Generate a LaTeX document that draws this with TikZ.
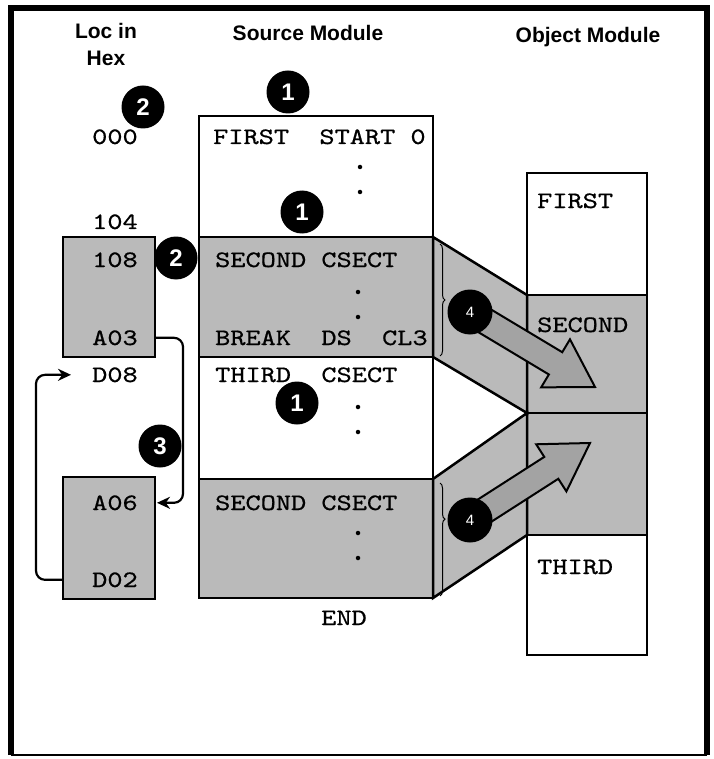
\documentclass[tikz,border=0pt]{standalone}
\usepackage{fontspec}
\setmainfont{Liberation Sans}
\newfontfamily\monofnt{lmmono10-regular.otf}[FakeStretch=1.23, FakeBold=0.7]
\usetikzlibrary{calc,decorations.pathreplacing,arrows.meta}
\colorlet{shadegray}{black!27}
\colorlet{arrowgray}{black!36}
\begin{document}
\begin{tikzpicture}[x=1pt,y=-1pt,
  box/.style={draw, line width=2.5pt, outer sep=0pt, inner sep=0pt, anchor=north west, fill=white},
  shadebox/.style={box, fill=shadegray},
  code/.style={anchor=base west, inner sep=0pt, font=\monofnt\fontsize{23.5}{24}\selectfont},
  head/.style={anchor=base, inner sep=0pt, font=\bfseries\fontsize{21}{24}\selectfont},
  num/.style={circle, fill=black, minimum size=43pt, inner sep=0pt, text=white, font=\bfseries\fontsize{24}{24}\selectfont},
  numsmall/.style={circle, fill=black, minimum size=45pt, inner sep=0pt, text=white, font=\fontsize{15}{15}\selectfont},
  dotmark/.style={circle, fill=black, minimum size=4.5pt, inner sep=0pt},
  loopline/.style={line width=2.2pt, rounded corners=9pt, -{Stealth[length=13pt,width=12pt]}},
  bigarrow/.style={draw, line width=2pt, fill=arrowgray, line join=miter},
  band/.style={draw, line width=2.5pt, fill=shadegray, line join=miter},
  bracestyle/.style={decorate, decoration={brace, amplitude=5pt}, line width=1pt}
]
\useasboundingbox (0,0) rectangle (713,759);
% frame
\draw[line width=6pt] (11,755) -- (11,8) -- (707,8) -- (707,755);
\draw[line width=2pt] (11,755) -- (707,755);

% headings
\node[head] (hLoc) at (106,39) {Loc in};
\node[head] (hHex) at (106,66) {Hex};
\node[head] (hSrc) at (308,41) {Source Module};
\node[head] (hObj) at (588,43) {Object Module};

% source module
\node[box, minimum width=234pt, minimum height=121pt] (srcA) at (199,116) {};
\node[shadebox, minimum width=234pt, minimum height=120pt] (srcB) at (199,237) {};
\node[box, minimum width=234pt, minimum height=122pt] (srcC) at (199,357) {};
\node[shadebox, minimum width=234pt, minimum height=119pt] (srcD) at (199,479) {};

% object module
\node[box, minimum width=120pt, minimum height=122pt] (objA) at (527,173) {};
\node[shadebox, minimum width=120pt, minimum height=118pt] (objB) at (527,295) {};
\node[shadebox, minimum width=120pt, minimum height=122pt] (objC) at (527,413) {};
\node[box, minimum width=120pt, minimum height=120pt] (objD) at (527,535) {};

% location boxes
\node[shadebox, minimum width=92pt, minimum height=120pt] (locA) at (63,237) {};
\node[shadebox, minimum width=92pt, minimum height=122pt] (locB) at (63,477) {};

% bands
\draw[band] (srcB.north east) -- (objB.north west) -- (objB.south west) -- (srcB.south east) -- cycle;
\draw[band] (srcD.north east) -- (objC.north west) -- (objC.south west) -- (srcD.south east) -- cycle;

% braces
\coordinate (bA1) at (440,244);
\coordinate (bA2) at (440,356);
\coordinate (bB1) at (440,483);
\coordinate (bB2) at (440,596);
\draw[bracestyle] (bA1) -- (bA2);
\draw[bracestyle, decoration={brace, amplitude=5pt, aspect=0.32}] (bB1) -- (bB2);

% big arrows
\coordinate (S1) at (470,312);
\coordinate (T1) at (595,387);
\coordinate (B1) at ($(T1)!46pt!(S1)$);
\draw[bigarrow] ($(S1)!13pt!90:(T1)$) -- ($(B1)!13pt!-90:(S1)$) -- ($(B1)!28pt!-90:(S1)$) -- (T1)
  -- ($(B1)!28pt!90:(S1)$) -- ($(B1)!13pt!90:(S1)$) -- ($(S1)!13pt!-90:(T1)$) -- cycle;
\coordinate (S2) at (470,520);
\coordinate (T2) at (590,443);
\coordinate (B2) at ($(T2)!46pt!(S2)$);
\draw[bigarrow] ($(S2)!13pt!90:(T2)$) -- ($(B2)!13pt!-90:(S2)$) -- ($(B2)!28pt!-90:(S2)$) -- (T2)
  -- ($(B2)!28pt!90:(S2)$) -- ($(B2)!13pt!90:(S2)$) -- ($(S2)!13pt!-90:(T2)$) -- cycle;

% numbered circles
\node[num] (n2a) at (143,107) {2};
\node[num] (n1a) at (288,92) {1};
\node[num] (n1b) at (302,212) {1};
\node[num] (n2b) at (176,258) {2};
\node[num] (n1c) at (297,403) {1};
\node[num] (n3) at (160,446) {3};
\node[numsmall] (n4a) at (S1) {4};
\node[numsmall] (n4b) at (S2) {4};

% dots
\node[dotmark] (d1) at (360,167) {};
\node[dotmark] (d2) at (360,192) {};
\node[dotmark] (d3) at (358,292) {};
\node[dotmark] (d4) at (358,317) {};
\node[dotmark] (d5) at (358,407) {};
\node[dotmark] (d6) at (358,432) {};
\node[dotmark] (d7) at (358,533) {};
\node[dotmark] (d8) at (358,558) {};

% source text
\node[code] (tFirst) at (213,144) {FIRST~~START~0};
\node[code] (tSecond) at (215,267) {SECOND~CSECT};
\node[code] (tBreak) at (215,345) {BREAK~~DS~~CL3};
\node[code] (tThird) at (215,382) {THIRD~~CSECT};
\node[code] (tSecondB) at (215,510) {SECOND~CSECT};
\node[code, anchor=base] (tEnd) at (344,625) {END};

% locations
\node[code] (l000) at (92,144) {000};
\node[code] (l104) at (92,229) {104};
\node[code] (l108) at (92,267) {108};
\node[code] (lA03) at (92,345) {A03};
\node[code] (lD08) at (92,382) {D08};
\node[code] (lA06) at (92,510) {A06};
\node[code] (lD02) at (92,587) {D02};

% object text
\node[code] (oFirst) at (537,208) {FIRST};
\node[code] (oSecond) at (537,332) {SECOND};
\node[code] (oThird) at (537,574) {THIRD};

% loop arrows
\coordinate (r1) at (183,0);
\coordinate (r2) at (36,0);
\draw[loopline] (locA.east |- lA03.center) -| (r1 |- lA06.center) -- ($(locB.east |- lA06.center)+(2,0)$);
\draw[loopline] (locB.west |- lD02.center) -| (r2 |- lD08.center) -- ($(lD08.west)+(-21,0)$);
\end{tikzpicture}
\end{document}
